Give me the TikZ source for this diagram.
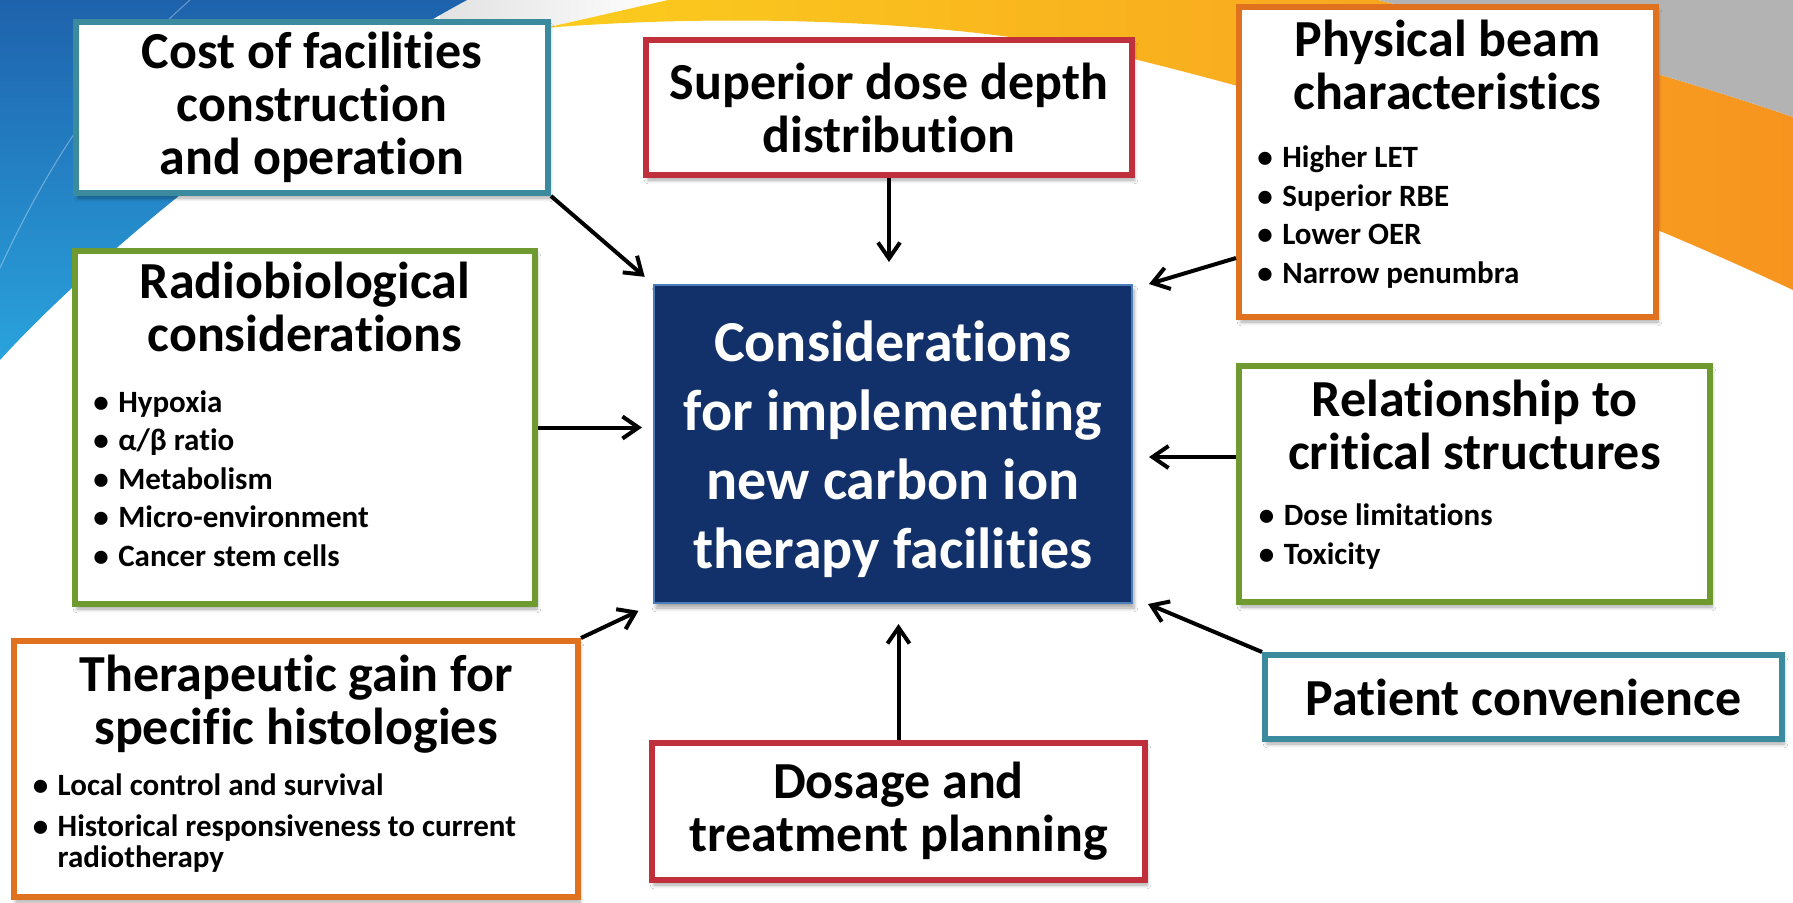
\documentclass[tikz,border=0pt]{standalone}
\usepackage{fontspec}
\setmainfont{Carlito}[Ligatures=CommonOff]
\usepackage{tikz}
\usetikzlibrary{arrows.meta,positioning,shadows.blur}
\definecolor{boxteal}{HTML}{3C8A9D}
\definecolor{boxred}{HTML}{BF303C}
\definecolor{boxorange}{HTML}{E0711F}
\definecolor{boxgreen}{HTML}{6F9A30}
\definecolor{hubnavy}{HTML}{12316A}
\definecolor{hubrim}{HTML}{4A7EBB}
\definecolor{swooshblueA}{HTML}{1E62AC}
\definecolor{swooshblueB}{HTML}{2AA3DD}
\definecolor{swooshyellow}{HTML}{FBCD1E}
\definecolor{swooshorange}{HTML}{F7941F}
\definecolor{swooshgray}{HTML}{B3B3B3}
\definecolor{swooshlight}{HTML}{E2E2E2}
\newcommand{\titlefont}{\bfseries\fontsize{26}{26.5}\selectfont}
\newcommand{\pointfont}{\bfseries\fontsize{15.5}{15.35}\selectfont}
\newcommand{\pointlist}[1]{\begin{tabular}{@{}l@{\hspace{4.75pt}}l@{}}#1\end{tabular}}

\begin{document}
\begin{tikzpicture}[x=0.5pt,y=-0.5pt,
  card/.style={draw=#1,line width=3pt,fill=white,inner sep=0pt,align=center,font=\titlefont,
    blur shadow={shadow xshift=1pt,shadow yshift=-2.5pt,shadow blur steps=6,shadow opacity=35}},
  cardtitle/.style={inner sep=0pt,align=center,font=\titlefont},
  points/.style={inner sep=0pt,anchor=north west,font=\pointfont},
  feed/.style={line width=2pt,-{Straight Barb[length=8pt,width=11pt]}}]
  \useasboundingbox (0,0) rectangle (1793,902);
  \fill[white] (0,0) rectangle (1793,902);
  \shade[left color=swooshlight,right color=white] (440,0) -- (668,0) -- (545,28) -- (440,28) -- cycle;
  \shade[top color=swooshblueA,bottom color=swooshblueB] (0,0) -- (467,0) .. controls (300,90) and (100,250) .. (0,360) -- cycle;
  \draw[white,opacity=0.35,line width=0.5pt] (0,268) .. controls (50,160) and (110,70) .. (190,0);
  \shade[left color=swooshyellow,right color=swooshorange] (545,28) .. controls (700,15) and (950,15) .. (1138,60)
    .. controls (1400,125) and (1600,200) .. (1793,290) -- (1793,117)
    .. controls (1650,68) and (1500,30) .. (1378,0) -- (668,0) -- cycle;
  \fill[swooshgray] (1378,0) .. controls (1500,30) and (1650,68) .. (1793,117) -- (1793,0) -- cycle;

  \node[card=boxteal,minimum width=236pt,minimum height=85.5pt] (cost) at (312,107.5) {Cost of facilities\\construction\\and operation};
  \node[card=boxred,minimum width=243pt,minimum height=67.5pt] (dose) at (889,107.5) {Superior dose depth\\distribution};
  \node[card=boxorange,minimum width=208.5pt,minimum height=155pt] (beam) at (1447.5,162) {};
  \node[cardtitle,below=8pt of beam.north] (beamtitle) {Physical beam\\characteristics};
  \node[points] (beampoints) at ([xshift=10.5pt,yshift=-70.75pt]beam.north west)
    {\pointlist{\textbullet & Higher LET\\[3.8pt] \textbullet & Superior RBE\\[3.8pt] \textbullet & Lower OER\\[3.8pt] \textbullet & Narrow penumbra}};
  \node[card=boxgreen,minimum width=230pt,minimum height=176.5pt] (radio) at (305,427.5) {};
  \node[cardtitle,below=7pt of radio.north] (radiotitle) {Radiobiological\\considerations};
  \node[points] (radiopoints) at ([xshift=10.5pt,yshift=-71pt]radio.north west)
    {\pointlist{\textbullet & Hypoxia\\[3.8pt] \textbullet & α/β ratio\\[3.8pt] \textbullet & Metabolism\\[3.8pt] \textbullet & Micro-environment\\[3.8pt] \textbullet & Cancer stem cells}};
  \node[draw=hubrim,line width=1pt,fill=hubnavy,text=white,minimum width=239pt,minimum height=159pt,align=center,
    font=\bfseries\fontsize{29}{34.5}\selectfont,
    blur shadow={shadow xshift=1pt,shadow yshift=-2.5pt,shadow blur steps=6,shadow opacity=35}] (hub) at (893,444)
    {\rule{0pt}{25.5pt}Considerations\\for implementing\\new carbon ion\\therapy facilities};
  \node[card=boxgreen,minimum width=235.5pt,minimum height=118pt] (crit) at (1474.5,484) {};
  \node[cardtitle,below=8.5pt of crit.north] (crittitle) {Relationship to\\critical structures};
  \node[points] (critpoints) at ([xshift=11.25pt,yshift=-70.25pt]crit.north west)
    {\pointlist{\textbullet & Dose limitations\\[3.8pt] \textbullet & Toxicity}};
  \node[card=boxteal,minimum width=258.5pt,minimum height=42pt] (patient) at (1523.5,697) {Patient convenience};
  \node[card=boxorange,minimum width=282pt,minimum height=128pt] (gain) at (296,769) {};
  \node[cardtitle,below=8.5pt of gain.north] (gaintitle) {Therapeutic gain for\\specific histologies};
  \node[points] (gainpoints) at ([xshift=10.7pt,yshift=-67.75pt]gain.north west)
    {\pointlist{\textbullet & Local control and survival\\[5pt] \textbullet & Historical responsiveness to current\\ & radiotherapy}};
  \node[card=boxred,minimum width=246.5pt,minimum height=68.5pt] (plan) at (898.5,811.5) {Dosage and\\treatment planning};

  \draw[feed,shorten >=5.5pt] (cost.south east) -- (hub.north west);
  \draw[feed,shorten >=11pt] (dose.south) -- (dose.south |- hub.north);
  \draw[feed] ([yshift=-48pt]beam.west) -- ([xshift=8pt]hub.north east);
  \draw[feed,shorten >=5.5pt] (radio.east) -- (radio.east -| hub.west);
  \draw[feed,shorten >=8pt] ([yshift=13.5pt]crit.west) -- ([yshift=13.5pt]crit.west -| hub.east);
  \draw[feed] (patient.north west) -- ([xshift=7.5pt]hub.south east);
  \draw[feed,shorten >=8pt] (gain.north east) -- (hub.south west);
  \draw[feed,shorten >=10pt] (plan.north) -- (plan.north |- hub.south);
\end{tikzpicture}
\end{document}
